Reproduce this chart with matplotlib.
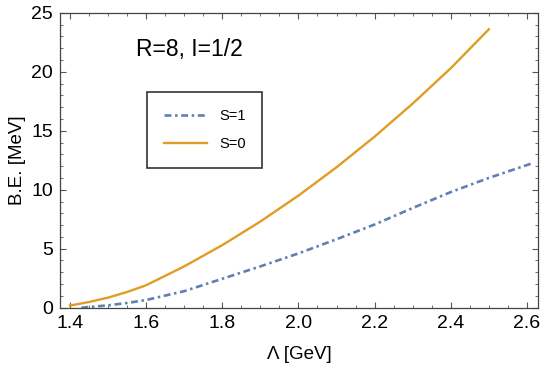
import matplotlib.pyplot as plt
from matplotlib.ticker import MultipleLocator

plt.rcParams['font.family'] = ['Liberation Sans', 'DejaVu Sans']
plt.rcParams['lines.scale_dashes'] = False

# S=0 (orange, solid)
lam_s0 = [1.40, 1.45, 1.50, 1.55, 1.60, 1.70, 1.80, 1.90, 2.00, 2.10, 2.20, 2.30, 2.40, 2.50]
be_s0 = [0.18, 0.48, 0.85, 1.33, 1.9, 3.5, 5.3, 7.3, 9.5, 11.9, 14.5, 17.3, 20.3, 23.6]

# S=1 (blue, dot-dashed)
lam_s1 = [1.43, 1.50, 1.55, 1.60, 1.70, 1.80, 1.90, 2.00, 2.10, 2.20, 2.30, 2.40, 2.50, 2.61]
be_s1 = [0.0, 0.2, 0.4, 0.65, 1.4, 2.45, 3.5, 4.6, 5.8, 7.05, 8.45, 9.8, 11.0, 12.2]

blue = '#5e81b5'
orange = '#e19c24'

fig = plt.figure(figsize=(5.42, 3.75), dpi=100)
ax = fig.add_axes([0.1107, 0.1795, 0.8819, 0.7865])

ax.plot(lam_s1, be_s1, color=blue, lw=1.9, label='S=1',
        linestyle=(0, (5, 2.6, 1.8, 2.6)), dash_capstyle='butt')
ax.plot(lam_s0, be_s0, color=orange, lw=1.7, label='S=0')

ax.set_xlim(1.374, 2.629)
ax.set_ylim(0, 25)
ax.xaxis.set_major_locator(MultipleLocator(0.2))
ax.xaxis.set_minor_locator(MultipleLocator(0.05))
ax.yaxis.set_major_locator(MultipleLocator(5))
ax.yaxis.set_minor_locator(MultipleLocator(1))
ax.xaxis.set_major_formatter(plt.FuncFormatter(lambda v, p: f'{v:.1f}'))

ax.tick_params(which='both', direction='in', top=True, right=True,
               color='#555555', labelsize=14, labelcolor='black')
ax.tick_params(which='major', length=4.5, width=0.8, pad=5)
ax.tick_params(which='minor', length=2.5, width=0.6)
for s in ax.spines.values():
    s.set_color('#444444')
    s.set_linewidth(0.9)

ax.set_xlabel('Λ [GeV]', fontsize=13.5, labelpad=10)
ax.set_ylabel('B.E. [MeV]', fontsize=13.5, labelpad=4)

ax.text(1.573, 21.9, 'R=8, I=1/2', fontsize=16.5, va='center', ha='left')

leg = ax.legend(loc='upper left', bbox_to_anchor=(0.1815, 0.731),
                fontsize=10.5, frameon=True, fancybox=False, edgecolor='black',
                handlelength=3.0, handletextpad=0.8, borderpad=1.15,
                labelspacing=1.0, borderaxespad=0)
leg.get_frame().set_linewidth(1.2)

fig.savefig('out.png', dpi=100)
